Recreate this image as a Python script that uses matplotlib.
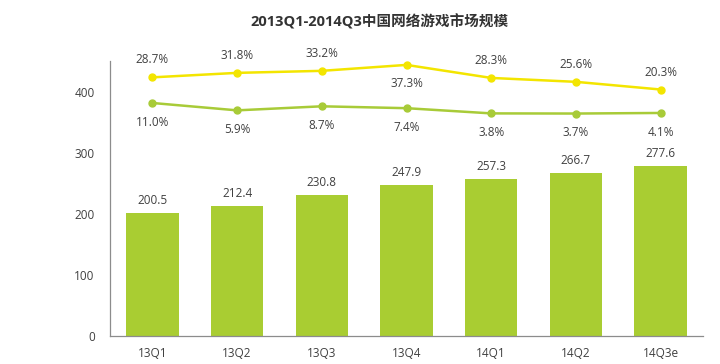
import matplotlib
matplotlib.use("Agg")
import matplotlib.pyplot as plt

plt.rcParams['font.family'] = ['Open Sans', 'Noto Sans CJK SC', 'DejaVu Sans']

categories = ["13Q1", "13Q2", "13Q3", "13Q4", "14Q1", "14Q2", "14Q3e"]
market_size = [200.5, 212.4, 230.8, 247.9, 257.3, 266.7, 277.6]
yoy_growth = [28.7, 31.8, 33.2, 37.3, 28.3, 25.6, 20.3]
qoq_growth = [11.0, 5.9, 8.7, 7.4, 3.8, 3.7, 4.1]
title = "2013Q1-2014Q3中国网络游戏市场规模"

bar_color = "#a9cd32"
yellow = "#f3e500"
green = "#a8cb38"
text_color = "#404040"
axis_color = "#8c8c8c"
fs = 8.5

fig = plt.figure(figsize=(7.2, 3.64), dpi=100)
ax = fig.add_axes([110/720, 28/364, 593/720, 275/364])
x = list(range(len(categories)))
ax.bar(x, market_size, width=0.62, color=bar_color, zorder=2)
ax.set_xlim(-0.5, len(categories) - 0.5)
ax.set_ylim(0, 450)
ax.set_yticks([0, 100, 200, 300, 400])
ax.set_xticks(x)
ax.set_xticklabels(categories)
ax.tick_params(axis='both', length=0, labelsize=fs, colors=text_color)
ax.tick_params(axis='x', pad=8)
ax.tick_params(axis='y', pad=11)
for s in ['top', 'right']:
    ax.spines[s].set_visible(False)
for s in ['left', 'bottom']:
    ax.spines[s].set_color(axis_color)
    ax.spines[s].set_linewidth(0.9)
for xi, v in zip(x, market_size):
    ax.annotate(f"{v:.1f}", (xi, v), xytext=(0, 9), textcoords='offset points',
                ha='center', va='center', fontsize=fs, color=text_color)

ax2 = ax.twinx()
ax2.set_ylim(-150, 40)
ax2.axis('off')
ax2.plot(x, yoy_growth, color=yellow, lw=1.8, marker='o', ms=5, zorder=3)
ax2.plot(x, qoq_growth, color=green, lw=1.8, marker='o', ms=5, zorder=3)
for xi, v in zip(x, yoy_growth):
    dy = -13.5 if v == max(yoy_growth) else 12.5
    ax2.annotate(f"{v:.1f}%", (xi, v), xytext=(0, dy), textcoords='offset points',
                 ha='center', va='center', fontsize=fs, color=text_color)
for xi, v in zip(x, qoq_growth):
    ax2.annotate(f"{v:.1f}%", (xi, v), xytext=(0, -14), textcoords='offset points',
                 ha='center', va='center', fontsize=fs, color=text_color)

fig.text(379/720, 1 - 22/364, title, ha='center', va='center', fontsize=10.5,
         fontweight='bold', color="#333333")

fig.savefig("out.png", dpi=100, facecolor='white')
